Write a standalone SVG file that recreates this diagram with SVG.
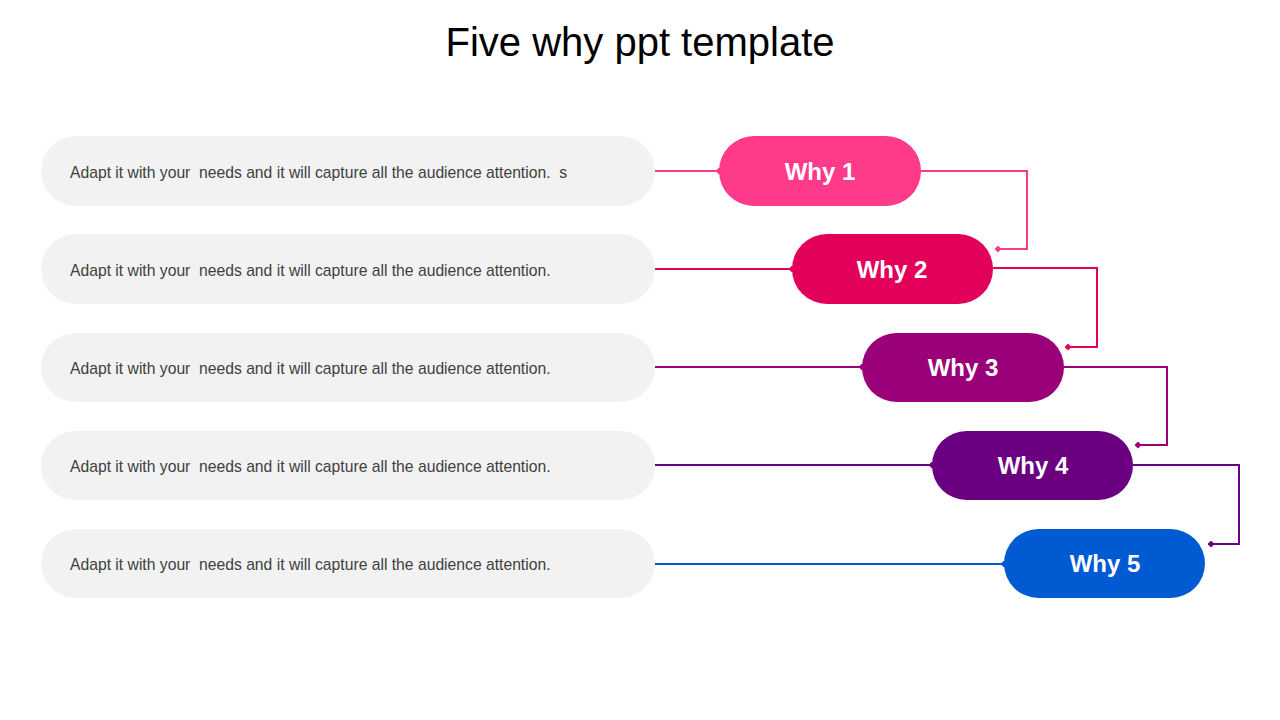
<svg xmlns="http://www.w3.org/2000/svg" width="1280" height="720" viewBox="0 0 1280 720">
<style>
.box{fill:#F2F2F2}
.txt{font-family:"Liberation Sans",Arial,sans-serif;font-size:15.7px;fill:#404040;white-space:pre}
.why{font-family:"Liberation Sans",Arial,sans-serif;font-size:24px;font-weight:bold;fill:#FFFFFF;text-anchor:middle}
.ln{fill:none;stroke-width:2}
</style>
<defs>
<marker id="d1" viewBox="0 0 10 10" refX="5" refY="5" markerWidth="7" markerHeight="7" markerUnits="userSpaceOnUse" orient="auto"><path d="M0,5 L5,0 L10,5 L5,10 Z" fill="#FF3A8A"/></marker>
<marker id="d2" viewBox="0 0 10 10" refX="5" refY="5" markerWidth="7" markerHeight="7" markerUnits="userSpaceOnUse" orient="auto"><path d="M0,5 L5,0 L10,5 L5,10 Z" fill="#E3005A"/></marker>
<marker id="d3" viewBox="0 0 10 10" refX="5" refY="5" markerWidth="7" markerHeight="7" markerUnits="userSpaceOnUse" orient="auto"><path d="M0,5 L5,0 L10,5 L5,10 Z" fill="#9A0078"/></marker>
<marker id="d4" viewBox="0 0 10 10" refX="5" refY="5" markerWidth="7" markerHeight="7" markerUnits="userSpaceOnUse" orient="auto"><path d="M0,5 L5,0 L10,5 L5,10 Z" fill="#6A0080"/></marker>
<marker id="d5" viewBox="0 0 10 10" refX="5" refY="5" markerWidth="7" markerHeight="7" markerUnits="userSpaceOnUse" orient="auto"><path d="M0,5 L5,0 L10,5 L5,10 Z" fill="#005AD2"/></marker>
</defs>
<text x="640" y="56" text-anchor="middle" font-family="'Liberation Sans',Arial,sans-serif" font-size="40" fill="#000000">Five why ppt template</text>
<g id="connectors">
<path class="ln" stroke="#FF3A8A" d="M655,171 H719" marker-end="url(#d1)"/>
<path class="ln" stroke="#E3005A" d="M655,269 H792" marker-end="url(#d2)"/>
<path class="ln" stroke="#9A0078" d="M655,367 H862" marker-end="url(#d3)"/>
<path class="ln" stroke="#6A0080" d="M655,465 H932" marker-end="url(#d4)"/>
<path class="ln" stroke="#005AD2" d="M655,564 H1004" marker-end="url(#d5)"/>
<path class="ln" stroke="#FF3A8A" d="M921,171 H1027 V249 H998" marker-end="url(#d1)"/>
<path class="ln" stroke="#E3005A" d="M993,268 H1097 V347 H1068" marker-end="url(#d2)"/>
<path class="ln" stroke="#9A0078" d="M1064,367 H1167 V445 H1138" marker-end="url(#d3)"/>
<path class="ln" stroke="#6A0080" d="M1133,465 H1239 V544 H1211" marker-end="url(#d4)"/>
</g>
<g id="text1"><rect class="box" x="41" y="136" width="614" height="70" rx="35"/><text class="txt" x="70" y="178">Adapt it with your  needs and it will capture all the audience attention.  s</text></g>
<g id="text2"><rect class="box" x="41" y="234" width="614" height="70" rx="35"/><text class="txt" x="70" y="276">Adapt it with your  needs and it will capture all the audience attention.</text></g>
<g id="text3"><rect class="box" x="41" y="333" width="614" height="69" rx="34.5"/><text class="txt" x="70" y="374">Adapt it with your  needs and it will capture all the audience attention.</text></g>
<g id="text4"><rect class="box" x="41" y="431" width="614" height="69" rx="34.5"/><text class="txt" x="70" y="472">Adapt it with your  needs and it will capture all the audience attention.</text></g>
<g id="text5"><rect class="box" x="41" y="529" width="614" height="69" rx="34.5"/><text class="txt" x="70" y="570">Adapt it with your  needs and it will capture all the audience attention.</text></g>
<g id="why1"><rect x="719" y="136" width="202" height="70" rx="35" fill="#FF3A8A"/><text class="why" x="820" y="180">Why 1</text></g>
<g id="why2"><rect x="792" y="234" width="201" height="70" rx="35" fill="#E3005A"/><text class="why" x="892" y="278">Why 2</text></g>
<g id="why3"><rect x="862" y="333" width="202" height="69" rx="34.5" fill="#9A0078"/><text class="why" x="963" y="376">Why 3</text></g>
<g id="why4"><rect x="932" y="431" width="201" height="69" rx="34.5" fill="#6A0080"/><text class="why" x="1033" y="474">Why 4</text></g>
<g id="why5"><rect x="1004" y="529" width="201" height="69" rx="34.5" fill="#005AD2"/><text class="why" x="1105" y="572">Why 5</text></g>
</svg>
